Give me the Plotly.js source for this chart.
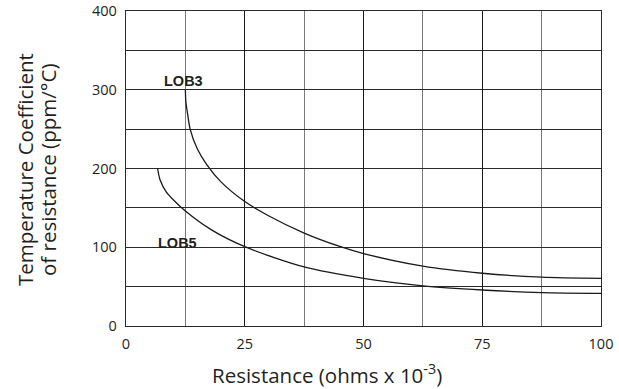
<!DOCTYPE html>
<html>
<head>
<meta charset="utf-8">
<script src="https://cdn.plot.ly/plotly-3.0.1.min.js"></script>
<style>html,body{margin:0;padding:0;background:#fff}#chart{width:619px;height:389px}</style>
</head>
<body>
<div id="chart"></div>
<script>
// LOB3 curve (resistance, TCR)
const lob3X = [12.5, 12.6, 13.0, 13.5, 15, 17, 20, 25, 30, 37.5, 45, 50, 62.5, 75, 87.5, 100];
const lob3Y = [300, 285, 268, 250, 225, 205, 183, 158, 140, 118, 101, 92, 76, 67, 62, 60.5];
// LOB5 curve
const lob5X = [6.65, 7.2, 8.5, 10, 12.5, 18, 25, 37.5, 50, 62.5, 75, 87.5, 100];
const lob5Y = [200, 185, 170, 160, 146, 122, 100.7, 75, 60.5, 51, 45.7, 42.3, 41.4];
const xTicks = [0, 25, 50, 75, 100];
const yTicks = [0, 100, 200, 300, 400];
const curveLabels = ["LOB3", "LOB5"];
const labelX = [12.0, 10.9];
const labelY = [311.5, 105];
const xTitle = 'Resistance (ohms x 10<sup>-3</sup>)';
const yTitleLines = ['Temperature Coefficient', 'of resistance (ppm/°C)'];

const lineStyle = {color: '#1a1a1a', width: 1.3, shape: 'spline', smoothing: 0.8};
const data = [
  {x: lob3X, y: lob3Y, type: 'scatter', mode: 'lines', line: lineStyle, hoverinfo: 'skip'},
  {x: lob5X, y: lob5Y, type: 'scatter', mode: 'lines', line: lineStyle, hoverinfo: 'skip'}
];
const txtColor = '#231f20';
const tickFont = {family: 'Open Sans, sans-serif', size: 14.5, color: txtColor};
const titleFont = {family: 'Open Sans, sans-serif', size: 20.5, color: txtColor};

// plot area: x 126..601 px, y 11..326 px
const PL = 126, PW = 475, PB = 326, PH = 315;
const annotations = curveLabels.map((t, i) => ({
  x: labelX[i], y: labelY[i], xref: 'x', yref: 'y', text: '<b>' + t + '</b>',
  showarrow: false, font: {family: 'Liberation Sans, Arial, sans-serif', size: 14.5, color: txtColor},
  xanchor: 'center', yanchor: 'middle'
}));
annotations.push({
  x: (327 - PL) / PW, y: (PB - 374) / PH, xref: 'paper', yref: 'paper',
  text: xTitle, showarrow: false, font: titleFont, xanchor: 'center', yanchor: 'middle'
});
const yTitleX = [25, 48];
yTitleLines.forEach((t, i) => annotations.push({
  x: (yTitleX[i] - PL) / PW, y: (PB - 170) / PH, xref: 'paper', yref: 'paper',
  text: t, textangle: -90, showarrow: false, font: titleFont, xanchor: 'center', yanchor: 'middle'
}));

const layout = {
  width: 619, height: 389,
  margin: {l: 126, r: 18, t: 11, b: 63},
  paper_bgcolor: '#fff', plot_bgcolor: '#fff',
  showlegend: false,
  xaxis: {
    range: [0, 100], tickvals: xTicks, ticktext: xTicks.map(String),
    ticks: '', showgrid: true, gridcolor: '#1a1a1a', gridwidth: 1.2,
    minor: {dtick: 12.5, tick0: 0, showgrid: true, gridcolor: '#7a7a7a', gridwidth: 1.2},
    showline: true, mirror: true, linecolor: '#2a2a2a', linewidth: 1.3,
    zeroline: false, tickfont: tickFont, ticklabelstandoff: 4, ticklabeloverflow: 'allow'
  },
  yaxis: {
    range: [0, 400], tickvals: yTicks, ticktext: yTicks.map(String),
    ticks: '', showgrid: false,
    minor: {dtick: 50, tick0: 0, showgrid: true, gridcolor: '#2a2a2a', gridwidth: 1.2},
    showline: true, mirror: true, linecolor: '#2a2a2a', linewidth: 1.3,
    zeroline: false, tickfont: tickFont, ticklabelstandoff: 5, ticklabeloverflow: 'allow'
  },
  annotations: annotations
};
Plotly.newPlot('chart', data, layout, {displayModeBar: false, staticPlot: true});
</script>
</body>
</html>
